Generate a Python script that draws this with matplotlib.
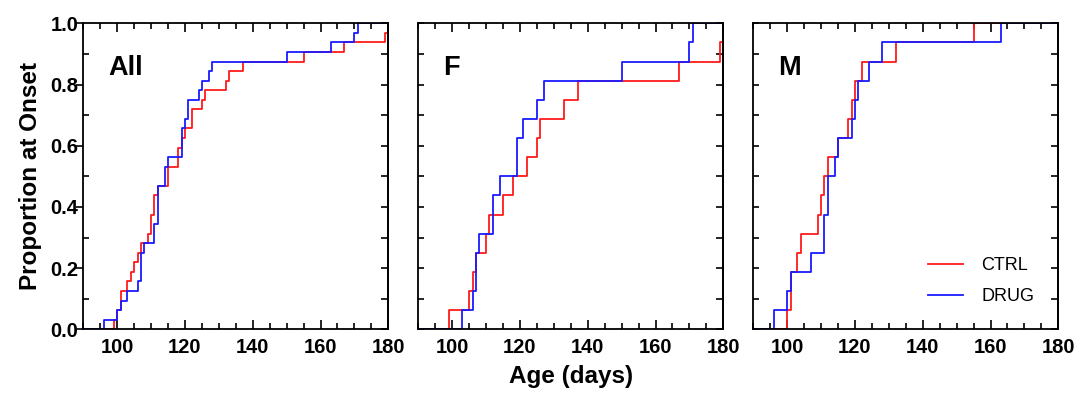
import numpy as np
import matplotlib
matplotlib.use("Agg")
import matplotlib.pyplot as plt
from matplotlib.ticker import MultipleLocator

plt.rcParams["font.family"] = ["Liberation Sans", "DejaVu Sans"]

# onset ages (days); animals per group
N_ALL = 32
N_SEX = 16

all_ctrl = [99, 100, 101, 101, 103, 104, 105, 106, 107, 109, 110, 110, 111, 111,
            112, 115, 115, 118, 118, 119, 120, 122, 122, 125, 126, 132, 133, 137,
            155, 167, 179]
all_drug = [96, 100, 101, 103, 106, 107, 107, 107, 108, 111, 111, 112, 112, 112,
            112, 114, 114, 115, 119, 119, 119, 120, 121, 121, 124, 125, 127, 128,
            150, 163, 170, 171]
f_ctrl = [99, 105, 106, 107, 110, 111, 115, 118, 122, 125, 126, 133, 137, 167, 179]
f_drug = [103, 106, 107, 107, 108, 112, 112, 114, 119, 119, 121, 125, 127, 150,
          170, 171]
m_ctrl = [100, 101, 101, 103, 104, 109, 110, 111, 112, 115, 118, 119, 120, 122,
          132, 155]
m_drug = [96, 100, 101, 107, 111, 111, 112, 112, 114, 115, 119, 120, 121, 124,
          128, 163]

panels = [
    ("All", all_ctrl, all_drug, N_ALL),
    ("F", f_ctrl, f_drug, N_SEX),
    ("M", m_ctrl, m_drug, N_SEX),
]

X_MIN, X_MAX = 90, 180
CTRL_COLOR = "#ff1a1a"
DRUG_COLOR = "#1a1aff"


def cum_curve(days, n):
    """Step coordinates for the cumulative proportion at onset."""
    days = np.sort(np.asarray(days, dtype=float))
    frac = np.arange(1, len(days) + 1) / n
    x = np.concatenate([[X_MIN], days, [X_MAX]])
    y = np.concatenate([[0.0], frac, [frac[-1]]])
    return x, y


fig = plt.figure(figsize=(10.8, 3.94), dpi=100)
lefts = [83.3 / 1080, 418.3 / 1080, 753.3 / 1080]
bottom, width, height = 1 - 329.3 / 394, 305 / 1080, 306 / 394

axes = []
for i, (name, ctrl, drug, n) in enumerate(panels):
    ax = fig.add_axes([lefts[i], bottom, width, height])
    axes.append(ax)

    xc, yc = cum_curve(ctrl, n)
    xd, yd = cum_curve(drug, n)
    ax.step(xc, yc, where="post", color=CTRL_COLOR, lw=1.3, label="CTRL")
    ax.step(xd, yd, where="post", color=DRUG_COLOR, lw=1.3, label="DRUG")

    ax.set_xlim(X_MIN, X_MAX)
    ax.set_ylim(0, 1)
    for s in ax.spines.values():
        s.set_linewidth(1.3)

    ax.xaxis.set_major_locator(MultipleLocator(20))
    ax.xaxis.set_minor_locator(MultipleLocator(5))
    ax.yaxis.set_major_locator(MultipleLocator(0.2))
    ax.yaxis.set_minor_locator(MultipleLocator(0.1))

    ax.tick_params(axis="x", which="both", direction="in", top=True,
                   width=1.2, labelsize=14.5, pad=6)
    ax.tick_params(axis="x", which="major", length=6.5)
    ax.tick_params(axis="x", which="minor", length=4)

    if i == 0:
        ax.tick_params(axis="y", which="major", direction="out", length=5,
                       width=1.2, labelsize=14.5, pad=-1.5)
        ax.tick_params(axis="y", which="minor", direction="in", length=4.5,
                       width=1.2)
        ax.yaxis.set_major_formatter(lambda v, p: f"{v:.1f}")
    else:
        ax.tick_params(axis="y", which="both", direction="in", length=4,
                       width=1.2, labelleft=False)

    sec = ax.secondary_yaxis("right")
    sec.yaxis.set_major_locator(MultipleLocator(0.1))
    sec.tick_params(axis="y", which="both", direction="in", length=5,
                    width=1.2, labelright=False)
    sec.spines["right"].set_linewidth(1.3)

    for lab in ax.get_xticklabels() + ax.get_yticklabels():
        lab.set_fontweight("bold")

    ax.text(0.082, 0.831, name, transform=ax.transAxes, fontsize=19.5,
            fontweight="bold", ha="left", va="baseline")

axes[0].set_ylabel("Proportion at Onset", fontsize=17.5, fontweight="bold",
                   labelpad=6)
axes[1].set_xlabel("Age (days)", fontsize=17.5, fontweight="bold", labelpad=6)

axes[2].legend(loc="upper left", bbox_to_anchor=(0.572, 0.235), frameon=False,
               fontsize=13, handlelength=1.95, handletextpad=1.0,
               labelspacing=0.75, borderpad=0, borderaxespad=0)

fig.savefig("out.png", dpi=100)
